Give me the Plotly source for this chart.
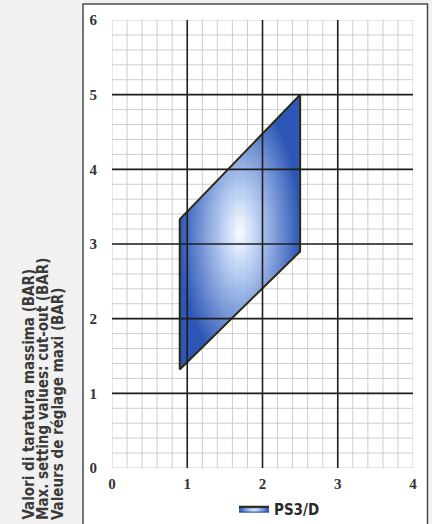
import plotly.graph_objects as go
import numpy as np

# ---- data ----
poly_x = [0.9, 0.9, 2.5, 2.5, 0.9]
poly_y = [1.32, 3.33, 5.0, 2.9, 1.32]
series_name = "PS3/D"
x_ticks = [0, 1, 2, 3, 4]
y_ticks = [0, 1, 2, 3, 4, 5, 6]
y_title_lines = [
    "Valori di taratura massima (BAR)",
    "Max. setting values: cut-out (BAR)",
    "Valeurs de réglage maxi (BAR)",
]

W, H = 432, 524
L, R, T, B = 112, 19, 20, 56
pw, ph = W - L - R, H - T - B

def px2paper_x(px):
    return (px - L) / pw

def px2paper_y(py):
    return (H - B - py) / ph

fig = go.Figure()

fig.add_trace(go.Scatter(
    x=poly_x, y=poly_y, mode="lines", fill="toself", name=series_name,
    line=dict(color="#2a2a12", width=2),
    fillgradient=dict(type="radial", colorscale=[
        [0.0, "rgba(250,252,255,0.92)"],
        [0.3, "rgba(180,202,242,0.92)"],
        [1.0, "rgba(34,78,178,0.95)"],
    ]),
    showlegend=True, hoverinfo="skip",
))

shapes = []
# white panel
shapes.append(dict(type="rect", xref="paper", yref="paper",
                   x0=px2paper_x(83), x1=px2paper_x(427.5),
                   y0=px2paper_y(540), y1=px2paper_y(4),
                   fillcolor="white", line=dict(color="#4a4a4a", width=1.5),
                   layer="below"))
# minor grid
xmin, xmax = x_ticks[0], x_ticks[-1]
ymin, ymax = y_ticks[0], y_ticks[-1]
for v in np.arange(xmin, xmax + 1e-9, 0.2):
    shapes.append(dict(type="line", x0=v, x1=v, y0=ymin, y1=ymax,
                       line=dict(color="#cdcdcd", width=1), layer="below"))
for v in np.arange(ymin, ymax + 1e-9, 0.2):
    shapes.append(dict(type="line", x0=xmin, x1=xmax, y0=v, y1=v,
                       line=dict(color="#cdcdcd", width=1), layer="below"))
# major grid (inner)
for v in x_ticks[1:-1]:
    shapes.append(dict(type="line", x0=v, x1=v, y0=ymin, y1=ymax,
                       line=dict(color="#1e1e1e", width=1.6), layer="above"))
for v in y_ticks[1:-1]:
    shapes.append(dict(type="line", x0=xmin, x1=xmax, y0=v, y1=v,
                       line=dict(color="#1e1e1e", width=1.6), layer="above"))

title_font = dict(family="Liberation Sans Narrow, DejaVu Sans Condensed, sans-serif",
                  size=15, color="#3a3a3a", weight="bold")
annotations = []
xs = [28, 43, 58]
for txt, xp in zip(y_title_lines, xs):
    annotations.append(dict(
        text=txt, textangle=-90, xref="paper", yref="paper",
        x=px2paper_x(xp), y=px2paper_y(522), xanchor="center", yanchor="bottom",
        showarrow=False, font=title_font,
    ))

tick_font = dict(family="Liberation Serif", size=15, color="#333333", weight="bold")

fig.update_layout(
    width=W, height=H,
    margin=dict(l=L, r=R, t=T, b=B, pad=0, autoexpand=False),
    paper_bgcolor="#f1f1f1", plot_bgcolor="rgba(0,0,0,0)",
    shapes=shapes, annotations=annotations,
    xaxis=dict(range=[xmin, xmax], tickvals=x_ticks, showgrid=False, zeroline=False,
               showline=False, ticks="", tickfont=tick_font, ticklabelstandoff=5,
               fixedrange=True, automargin=False),
    yaxis=dict(range=[ymin, ymax], tickvals=y_ticks, showgrid=False, zeroline=False,
               showline=False, ticks="", tickfont=tick_font, ticklabelstandoff=14,
               fixedrange=True, automargin=False),
    legend=dict(orientation="h", x=px2paper_x(234), y=px2paper_y(509),
                xanchor="left", yanchor="middle", bgcolor="rgba(0,0,0,0)",
                font=dict(family="Liberation Sans Narrow, DejaVu Sans Condensed, sans-serif",
                          size=15, color="#2a2a2a", weight="bold"),
                itemwidth=30),
    showlegend=True,
)

fig.write_html(
    "out.html",
    config={"displayModeBar": False},
    post_script="document.body.style.margin='0';document.body.style.overflow='hidden';document.body.style.background='#f1f1f1';",
)
